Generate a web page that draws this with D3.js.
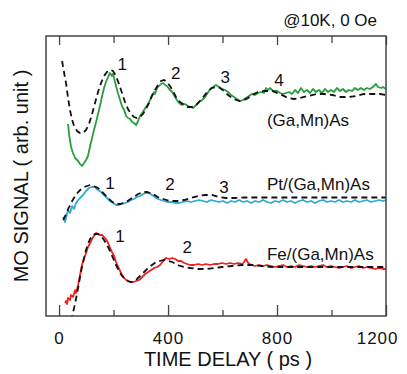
<!DOCTYPE html>
<html lang="en">

<head>
  <title>MO signal vs time delay</title>
  <script src="https://cdn.jsdelivr.net/npm/d3@7/dist/d3.min.js"></script>
  <style>
    body { margin: 0; background: #fff; }
    text { font-family: Arial, "Liberation Sans", sans-serif; fill: #111; }
  </style>
</head>

<body>
  <script>
    // [time delay (ps), MO signal (arb. unit)]
    var gaMnAs = [
      [33,19.2],[37,18.1],[44,16.9],[51,16.3],[59,15.8],[70,15.5],[77,15.2],[84,15.0],[92,15.3],[99,15.6],
      [106,16.0],[114,17.0],[121,17.8],[128,18.6],[136,19.4],[143,20.2],[150,21.0],[158,22.0],[165,22.8],[172,23.4],
      [180,23.9],[187,24.3],[194,24.0],[198,24.2],[202,23.8],[209,23.0],[217,22.2],[224,21.6],[231,21.0],[239,20.6],
      [246,20.0],[253,19.8],[261,19.7],[268,19.4],[275,19.3],[283,19.1],[290,19.5],[297,20.0],[305,20.3],[312,20.6],
      [319,20.9],[327,21.2],[334,21.6],[341,22.1],[349,22.4],[352,22.2],[360,22.8],[367,23.0],[374,23.2],[382,23.3],
      [389,23.1],[396,23.0],[404,22.7],[415,22.4],[426,21.9],[437,21.4],[444,21.2],[451,21.1],[462,21.2],[473,21.0],
      [484,20.9],[492,20.8],[503,21.1],[514,21.4],[525,21.6],[536,21.9],[543,22.2],[550,22.5],[558,22.8],[565,22.9],
      [576,23.1],[587,22.9],[598,22.7],[609,22.6],[620,22.4],[631,22.1],[642,21.9],[653,21.7],[664,21.5],[675,21.6],
      [686,21.8],[697,22.0],[708,22.2],[719,22.1],[730,22.3],[741,22.4],[752,22.3],[760,22.8],[767,22.6],[774,22.8],
      [782,22.6],[789,22.5],[800,22.5],[811,22.3],[822,22.2],[833,22.3],[844,22.4],[855,22.2],[866,22.6],[877,22.3],
      [888,22.8],[899,22.4],[910,22.6],[921,22.3],[932,22.7],[943,22.4],[954,22.6],[965,22.3],[976,22.7],[987,22.4],
      [998,22.6],[1009,22.4],[1020,22.8],[1031,22.5],[1042,22.7],[1053,22.4],[1064,22.6],[1075,22.5],[1086,22.8],[1097,22.6],
      [1108,22.8],[1119,22.6],[1130,22.8],[1141,22.7],[1152,22.9],[1163,23.2],[1171,22.9],[1182,22.8],[1189,22.9],[1200,22.7]
    ];
    var gaMnAsFit = [
      [11,25.5],[18,24.4],[26,23.2],[33,21.8],[40,20.6],[48,19.6],[55,19.0],[66,18.5],[77,18.3],[88,18.3],
      [99,18.6],[110,19.2],[121,20.2],[132,21.3],[143,22.4],[154,23.3],[165,24.0],[176,24.4],[187,24.6],[198,24.5],
      [209,24.0],[220,23.2],[231,22.3],[242,21.4],[253,20.7],[264,20.2],[275,19.9],[286,19.8],[297,19.9],[308,20.2],
      [319,20.7],[330,21.3],[341,22.0],[352,22.6],[363,23.1],[374,23.5],[385,23.6],[396,23.4],[407,23.0],[418,22.5],
      [429,21.9],[444,21.4],[459,21.1],[473,20.9],[488,20.9],[503,21.1],[517,21.5],[532,22.0],[547,22.5],[561,22.8],
      [576,22.9],[591,22.8],[606,22.5],[620,22.1],[635,21.8],[650,21.6],[664,21.5],[679,21.6],[694,21.8],[708,22.1],
      [730,22.4],[752,22.5],[782,22.5],[811,22.2],[840,21.8],[862,21.7],[884,21.8],[914,22.0],[943,22.2],[972,22.2],
      [1002,22.1],[1031,21.9],[1061,21.9],[1090,22.0],[1119,22.2],[1149,22.2],[1178,22.2],[1200,22.1]
    ];
    var ptGaMnAs = [
      [15,9.9],[22,9.4],[29,10.2],[33,10.6],[40,10.3],[48,11.0],[55,10.7],[62,11.3],[70,11.6],[77,11.8],
      [88,12.1],[99,12.5],[110,12.8],[121,12.9],[132,12.9],[143,12.6],[154,12.4],[165,12.1],[176,11.8],[187,11.5],
      [198,11.3],[209,11.1],[220,11.1],[231,11.2],[242,11.3],[253,11.4],[264,11.6],[275,11.7],[286,11.9],[297,12.0],
      [308,12.2],[319,12.3],[330,12.3],[341,12.1],[352,11.9],[363,11.7],[374,11.6],[385,11.5],[396,11.4],[411,11.4],
      [426,11.3],[440,11.3],[455,11.4],[470,11.5],[484,11.4],[499,11.5],[514,11.6],[528,11.5],[543,11.4],[558,11.6],
      [572,11.5],[587,11.4],[602,11.5],[617,11.3],[631,11.5],[646,11.4],[661,11.6],[675,11.4],[690,11.5],[705,11.3],
      [719,11.5],[734,11.4],[749,11.6],[763,11.4],[778,11.3],[793,11.5],[807,11.4],[822,11.6],[837,11.4],[851,11.5],
      [866,11.3],[881,11.5],[895,11.6],[910,11.4],[925,11.5],[939,11.3],[954,11.5],[969,11.6],[983,11.4],[998,11.5],
      [1013,11.4],[1028,11.6],[1042,11.4],[1057,11.5],[1072,11.4],[1086,11.6],[1101,11.4],[1116,11.5],[1130,11.6],[1145,11.4],
      [1160,11.5],[1175,11.6],[1189,11.5],[1200,11.6]
    ];
    var ptGaMnAsFit = [
      [15,9.6],[26,10.2],[37,10.9],[48,11.5],[59,12.0],[70,12.4],[81,12.7],[92,12.9],[103,13.0],[114,13.1],
      [125,13.0],[136,12.9],[147,12.7],[158,12.4],[169,12.1],[180,11.8],[191,11.5],[202,11.3],[213,11.2],[224,11.2],
      [235,11.3],[246,11.4],[257,11.6],[268,11.8],[279,12.0],[290,12.2],[301,12.3],[312,12.4],[323,12.4],[334,12.3],
      [345,12.2],[356,12.0],[367,11.8],[382,11.7],[407,11.5],[433,11.5],[459,11.6],[484,11.8],[510,12.0],[536,12.1],
      [561,12.1],[587,11.9],[613,11.8],[642,11.8],[680,11.85],[740,11.85],[800,11.85],[900,11.85],[1000,11.85],[1100,11.85],
      [1200,11.85]
    ];
    var feGaMnAs = [
      [22,1.3],[26,1.5],[29,1.2],[33,1.8],[40,1.6],[44,2.1],[51,1.9],[59,2.6],[62,2.3],[70,3.1],
      [77,4.1],[84,5.1],[92,5.8],[99,6.3],[106,6.9],[114,7.3],[121,7.7],[128,8.0],[136,8.3],[143,8.2],
      [150,8.1],[158,8.1],[165,7.9],[172,7.7],[180,7.3],[187,6.8],[194,6.4],[202,6.0],[209,5.4],[217,4.9],
      [224,4.5],[231,4.1],[239,3.8],[246,3.6],[253,3.5],[261,3.4],[272,3.4],[283,3.5],[294,3.6],[305,3.9],
      [316,4.2],[327,4.4],[338,4.6],[349,4.8],[360,4.9],[371,5.1],[382,5.5],[393,5.8],[404,5.7],[415,5.8],
      [426,5.7],[437,5.5],[448,5.5],[459,5.3],[470,5.2],[481,5.1],[495,5.1],[510,5.2],[525,5.1],[539,5.2],
      [554,5.1],[569,5.2],[583,5.2],[598,5.3],[613,5.2],[628,5.3],[642,5.2],[657,5.3],[672,5.2],[679,5.4],
      [686,5.7],[694,5.3],[705,5.1],[719,5.0],[734,5.1],[749,5.0],[763,5.1],[778,5.0],[793,4.9],[807,5.0],
      [822,5.1],[837,4.9],[851,5.0],[866,4.9],[881,5.1],[895,5.0],[910,4.9],[925,5.0],[939,4.9],[954,5.0],
      [969,5.1],[983,4.9],[998,5.0],[1013,4.9],[1028,4.8],[1042,4.9],[1057,5.0],[1072,4.8],[1086,4.9],[1101,5.0],
      [1116,4.8],[1130,4.9],[1145,4.8],[1160,4.7],[1175,4.8],[1189,4.7],[1200,4.7]
    ];
    var feGaMnAsFit = [
      [44,-0.5],[48,0.0],[55,0.8],[62,1.7],[70,2.8],[77,3.9],[84,4.9],[92,5.8],[99,6.6],[106,7.2],
      [114,7.7],[121,8.0],[132,8.2],[143,8.2],[154,8.0],[165,7.6],[176,7.1],[187,6.5],[198,5.8],[209,5.1],
      [220,4.5],[231,4.0],[242,3.7],[253,3.5],[264,3.4],[275,3.5],[286,3.7],[297,4.0],[312,4.4],[327,4.8],
      [341,5.1],[356,5.4],[371,5.5],[385,5.6],[400,5.5],[415,5.4],[429,5.2],[444,5.0],[462,4.9],[481,4.8],
      [510,4.7],[539,4.7],[569,4.8],[598,4.9],[635,5.0],[672,5.1],[708,5.1],[745,5.0],[782,4.9],[850,4.9],
      [950,4.9],[1050,4.9],[1150,4.9],[1200,4.9]
    ];

    var majorTicks = [0, 400, 800, 1200];
    var minorTicks = [200, 600, 1000];

    var series = [
      { data: gaMnAs, fit: gaMnAsFit, color: "#2a9d3c" },
      { data: ptGaMnAs, fit: ptGaMnAsFit, color: "#2fa9d6" },
      { data: feGaMnAs, fit: feGaMnAsFit, color: "#f41e1e" }
    ];

    // peak numbers and sample names: [time, signal, text]
    var peakLabels = [
      [232, 24.6, "1"], [428, 23.7, "2"], [610, 23.3, "3"], [807, 23.0, "4"],
      [187, 12.7, "1"], [407, 12.6, "2"], [605, 12.3, "3"],
      [224, 7.4, "1"], [470, 6.3, "2"]
    ];
    var sampleLabels = [
      [763, 19.0, "(Ga,Mn)As"],
      [763, 12.6, "Pt/(Ga,Mn)As"],
      [763, 5.6, "Fe/(Ga,Mn)As"]
    ];

    var w = 407;
    var h = 374;
    var margin = { top: 36, left: 46, right: 21, bottom: 58 };
    var width = w - margin.left - margin.right;
    var height = h - margin.top - margin.bottom;

    var svg = d3.select("body").append("svg")
                .attr("width", w)
                .attr("height", h);

    svg.append("defs").append("clipPath")
       .attr("id", "plotclip")
       .append("rect")
       .attr("width", width)
       .attr("height", height);

    var chart = svg.append("g")
                   .attr("transform", "translate(" + margin.left + "," + margin.top + ")");

    var x = d3.scaleLinear().domain([-48, 1200]).range([0, width]);
    var y = d3.scaleLinear().domain([0, 28]).range([height, 0]);

    var line = d3.line()
                 .x(function(d) { return x(d[0]); })
                 .y(function(d) { return y(d[1]); });

    function styleTicks(g) {
      g.select(".domain").remove();
      g.selectAll("line").attr("stroke", "#444").attr("stroke-width", 1.3);
    }

    // ticks pointing inward, bottom and top
    chart.append("g")
         .attr("transform", "translate(0," + height + ")")
         .call(d3.axisBottom(x).tickValues(majorTicks).tickFormat(d3.format("d"))
                 .tickSizeInner(-11).tickSizeOuter(0).tickPadding(16))
         .call(styleTicks)
         .call(function(g) {
           g.selectAll("text")
            .attr("font-size", 17)
            .attr("letter-spacing", 1)
            .attr("fill", "#111")
            .attr("font-family", "Arial, 'Liberation Sans', sans-serif");
           g.selectAll("text").filter(function(d) { return d === 1200; })
            .attr("text-anchor", "end")
            .attr("dx", 12);
         });
    chart.append("g")
         .attr("transform", "translate(0," + height + ")")
         .call(d3.axisBottom(x).tickValues(minorTicks).tickSizeInner(-6).tickSizeOuter(0).tickFormat(""))
         .call(styleTicks);
    chart.append("g")
         .call(d3.axisTop(x).tickValues(majorTicks).tickSizeInner(-9).tickSizeOuter(0).tickFormat(""))
         .call(styleTicks);
    chart.append("g")
         .call(d3.axisTop(x).tickValues(minorTicks).tickSizeInner(-7).tickSizeOuter(0).tickFormat(""))
         .call(styleTicks);

    var curves = chart.append("g").attr("clip-path", "url(#plotclip)");

    curves.selectAll(".data")
          .data(series)
          .enter()
            .append("path")
            .classed("data", true)
            .attr("d", function(d) { return line(d.data); })
            .attr("fill", "none")
            .attr("stroke", function(d) { return d.color; })
            .attr("stroke-width", 1.8)
            .attr("stroke-linejoin", "round");

    curves.selectAll(".fit")
          .data(series)
          .enter()
            .append("path")
            .classed("fit", true)
            .attr("d", function(d) { return line(d.fit); })
            .attr("fill", "none")
            .attr("stroke", "#111")
            .attr("stroke-width", 1.8)
            .attr("stroke-dasharray", "6,4");

    // frame
    chart.append("rect")
         .attr("width", width)
         .attr("height", height)
         .attr("fill", "none")
         .attr("stroke", "#444")
         .attr("stroke-width", 1.5);

    chart.selectAll(".peak")
         .data(peakLabels)
         .enter()
           .append("text")
           .classed("peak", true)
           .attr("x", function(d) { return x(d[0]); })
           .attr("y", function(d) { return y(d[1]); })
           .attr("text-anchor", "middle")
           .attr("font-size", 17)
           .text(function(d) { return d[2]; });

    chart.selectAll(".sample")
         .data(sampleLabels)
         .enter()
           .append("text")
           .classed("sample", true)
           .attr("x", function(d) { return x(d[0]); })
           .attr("y", function(d) { return y(d[1]); })
           .attr("font-size", 17)
           .text(function(d) { return d[2]; });

    svg.append("text")
       .attr("x", 377)
       .attr("y", 26)
       .attr("text-anchor", "end")
       .attr("font-size", 17)
       .text("@10K, 0 Oe");

    svg.append("text")
       .attr("x", 228)
       .attr("y", 366)
       .attr("text-anchor", "middle")
       .attr("font-size", 20)
       .text("TIME DELAY ( ps )");

    svg.append("text")
       .attr("transform", "translate(28,176) rotate(-90)")
       .attr("text-anchor", "middle")
       .attr("font-size", 20)
       .text("MO SIGNAL ( arb. unit )");
  </script>
</body>

</html>
